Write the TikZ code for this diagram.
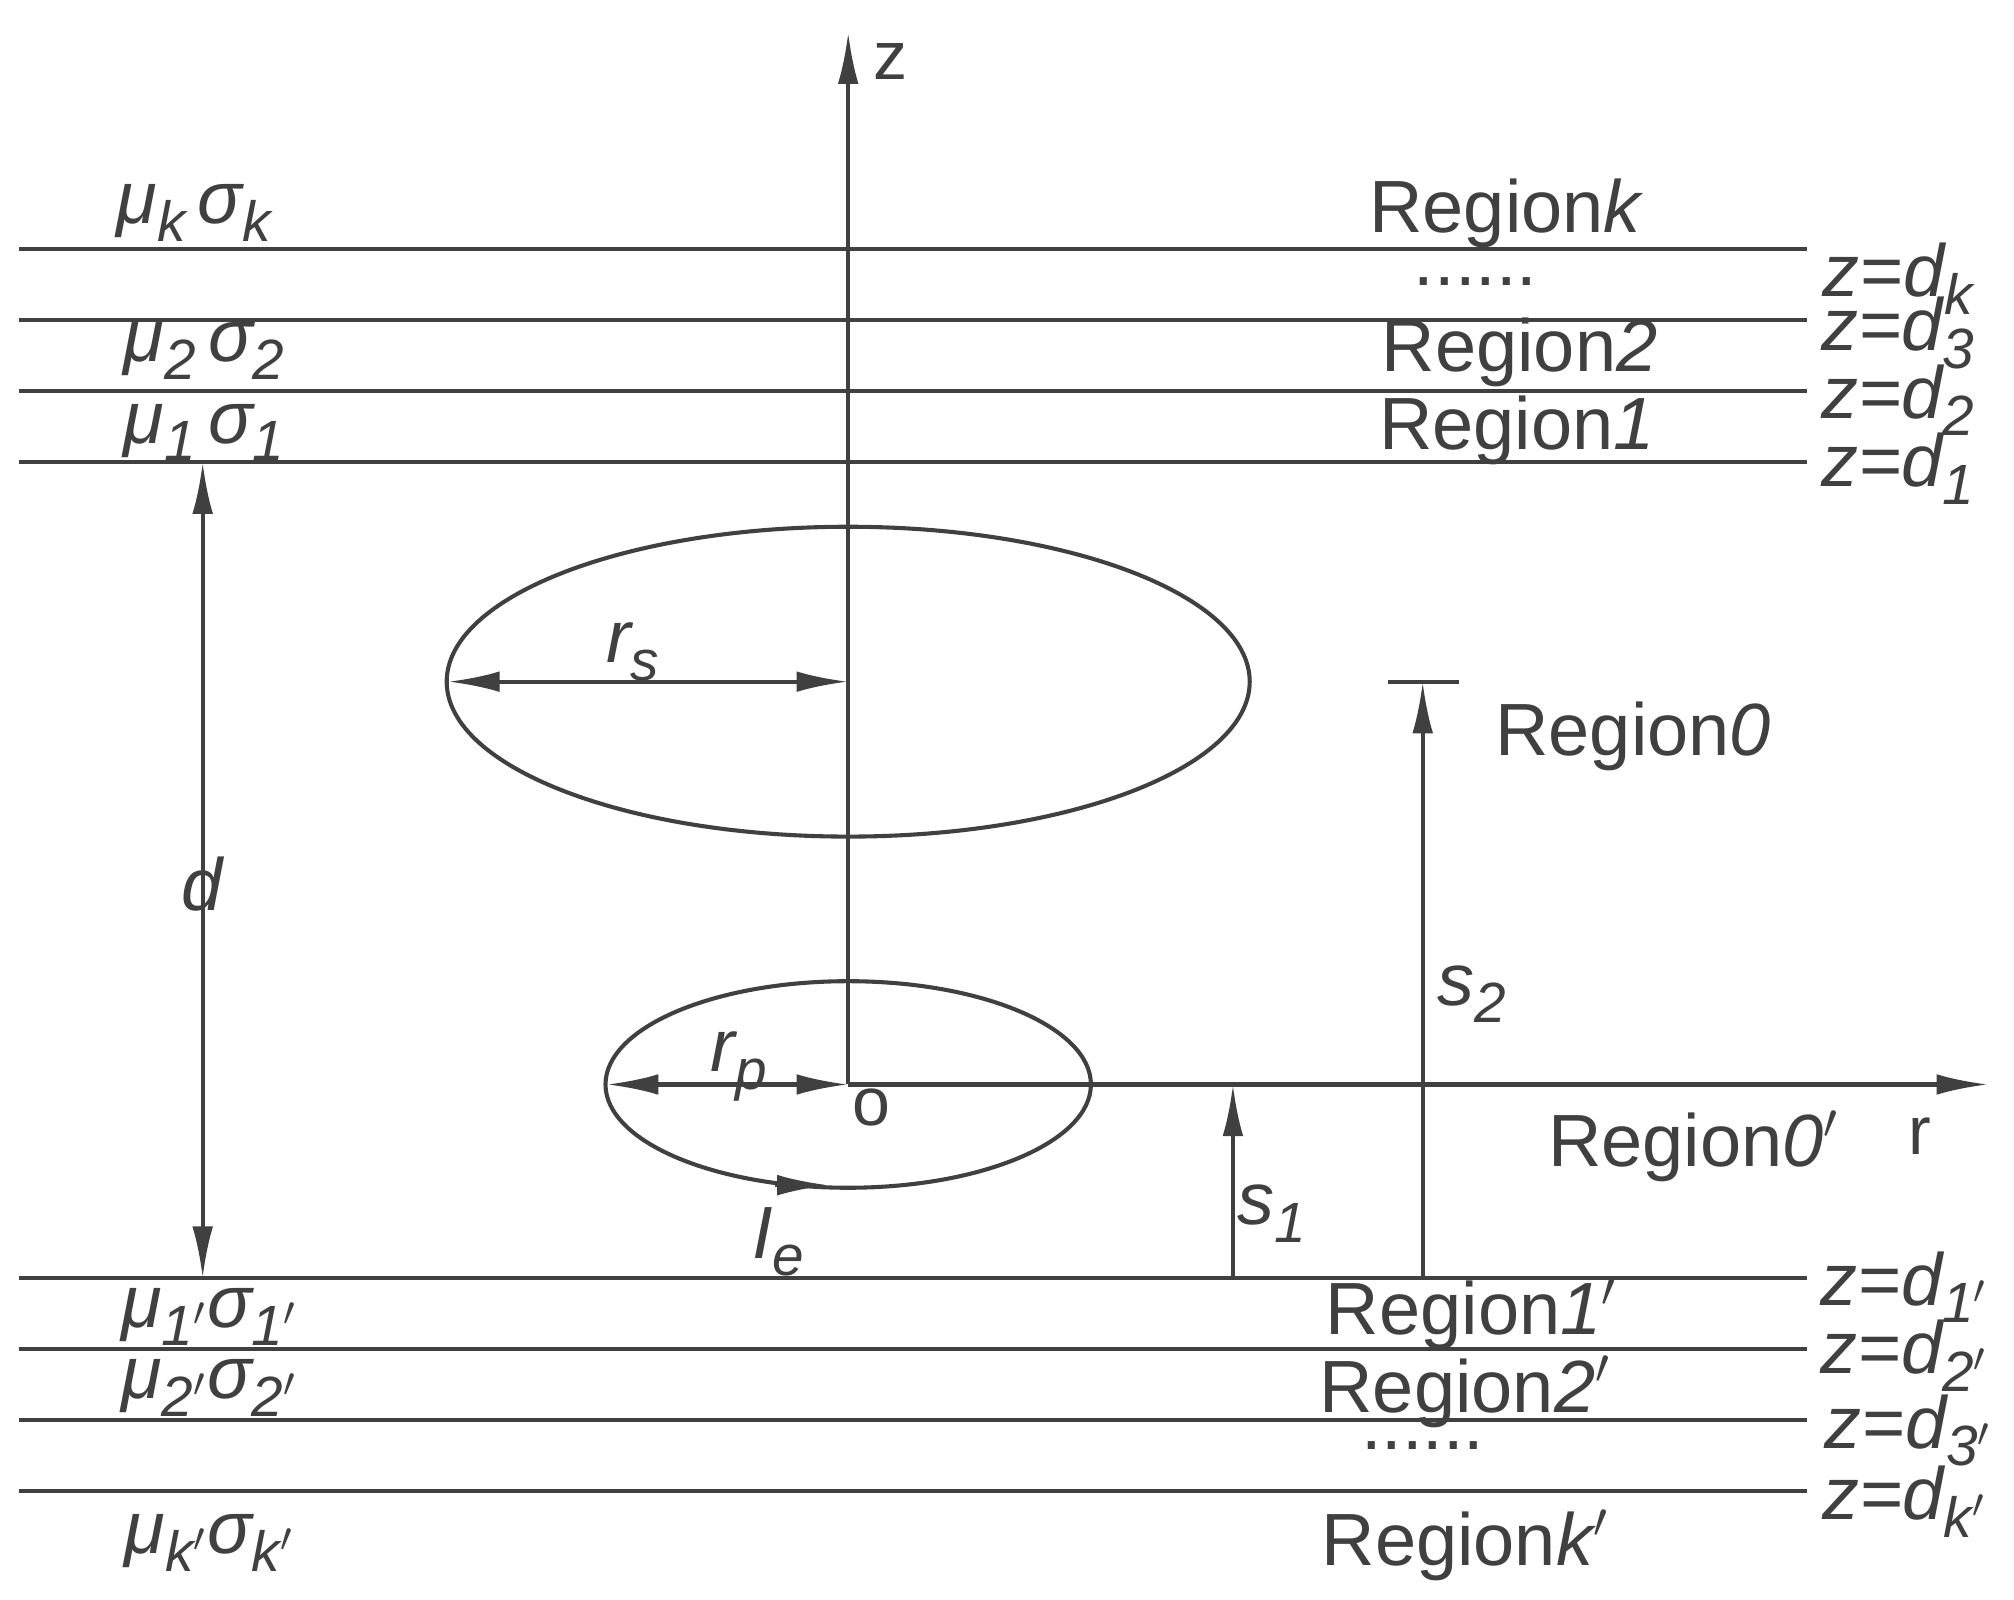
\documentclass[tikz,border=0pt]{standalone}
\usepackage{fontspec}
\setmainfont{Liberation Sans}
\usetikzlibrary{arrows.meta}
\definecolor{ink}{HTML}{404040}
\newcommand{\sbx}[1]{\raisebox{-0.45ex}{\fontsize{12.5}{13}\selectfont #1}}
\begin{document}
\begin{tikzpicture}[x=0.01cm,y=-0.01cm,
  ln/.style={draw=ink,line width=0.9pt},
  arr/.style={ln,-{Latex[length=0.4cm,width=0.16cm]}},
  darr/.style={ln,{Latex[length=0.4cm,width=0.16cm]}-{Latex[length=0.4cm,width=0.16cm]}},
  lab/.style={text=ink,font=\fontsize{16.3}{20}\selectfont,inner sep=0pt},
  slab/.style={text=ink,font=\fontsize{15}{18}\selectfont,inner sep=0pt}]
\useasboundingbox (0,0) rectangle (1560,1239);
% axes
\coordinate (O) at (657,840);
\coordinate (ztop) at (657,25);
\coordinate (rend) at (1540,840);
\draw[arr] (O) -- (ztop);
\draw[arr] (O) -- (rend);
\node[slab] (zl) at (690,48) {z};
\node[slab] (rl) at (1487,880) {r};
\node[slab] (ol) at (675,858) {o};
% layer lines
\foreach \y/\n in {193/a,248/b,303/c,358/d,990/e,1045/f,1100/g,1155/h}{
  \coordinate (L\n) at (15,\y); \coordinate (R\n) at (1400,\y);
  \draw[ln] (L\n) -- (R\n);}
% left labels
\node[lab] (m1) at (150,165) {\textit{μ\sbx{k}\,σ\sbx{k}}};
\node[lab] (m2) at (158,272) {\textit{μ\sbx{2}\,σ\sbx{2}}};
\node[lab] (m3) at (158,335) {\textit{μ\sbx{1}\,σ\sbx{1}}};
\node[lab] (m4) at (162,1020) {\textit{μ\sbx{1$'$}σ\sbx{1$'$}}};
\node[lab] (m5) at (162,1075) {\textit{μ\sbx{2$'$}σ\sbx{2$'$}}};
\node[lab] (m6) at (162,1195) {\textit{μ\sbx{k$'$}σ\sbx{k$'$}}};
% right labels
\node[lab] (d1) at (1470,216) {\textit{z=d\sbx{k}}};
\node[lab] (d2) at (1470,258) {\textit{z=d\sbx{3}}};
\node[lab] (d3) at (1470,310) {\textit{z=d\sbx{2}}};
\node[lab] (d4) at (1470,363) {\textit{z=d\sbx{1}}};
\node[lab] (d5) at (1475,997) {\textit{z=d\sbx{1$'$}}};
\node[lab] (d6) at (1475,1050) {\textit{z=d\sbx{2$'$}}};
\node[lab] (d7) at (1478,1108) {\textit{z=d\sbx{3$'$}}};
\node[lab] (d8) at (1475,1163) {\textit{z=d\sbx{k$'$}}};
% regions
\node[lab] (g1) at (1167,165) {Region\textit{k}};
\node[lab] (g2) at (1143,218) {......};
\node[lab] (g3) at (1177,273) {Region\textit{2}};
\node[lab] (g4) at (1175,333) {Region\textit{1}};
\node[lab] (g5) at (1265,570) {Region\textit{0}};
\node[lab] (g6) at (1312,888) {Region\textit{0$'$}};
\node[lab] (g7) at (1140,1018) {Region\textit{1$'$}};
\node[lab] (g8) at (1135,1078) {Region\textit{2$'$}};
\node[lab] (g9) at (1102,1120) {......};
\node[lab] (g10) at (1135,1197) {Region\textit{k$'$}};
% loops
\draw[ln] (657,528) ellipse [x radius=311,y radius=120];
\draw[ln] (657,840) ellipse [x radius=188,y radius=80];
\coordinate (rs1) at (657,528); \coordinate (rs2) at (347,528);
\draw[darr] (rs2) -- (rs1);
\node[lab] (rsl) at (490,505) {\textit{r\sbx{s}}};
\coordinate (rp1) at (470,840);
\draw[darr] (rp1) -- (O);
\node[lab] (rpl) at (572,826) {\textit{r\sbx{p}}};
\coordinate (ie1) at (600,918); \coordinate (ie2) at (642,918);
\draw[arr] (ie1) -- (ie2);
\node[lab] (iel) at (603,962) {\textit{I\sbx{e}}};
% d
\coordinate (da) at (157,358); \coordinate (db) at (157,990);
\draw[darr] (da) -- (db);
\node[lab] (dl) at (157,685) {\textit{d}};
% s1 s2
\coordinate (s1a) at (955,990); \coordinate (s1b) at (955,840);
\draw[arr] (s1a) -- (s1b);
\node[lab] (s1l) at (985,940) {\textit{s\sbx{1}}};
\coordinate (s2a) at (1102,990); \coordinate (s2b) at (1102,528);
\draw[arr] (s2a) -- (s2b);
\coordinate (t1) at (1075,528); \coordinate (t2) at (1130,528);
\draw[ln] (t1) -- (t2);
\node[lab] (s2l) at (1140,770) {\textit{s\sbx{2}}};
\end{tikzpicture}
\end{document}
